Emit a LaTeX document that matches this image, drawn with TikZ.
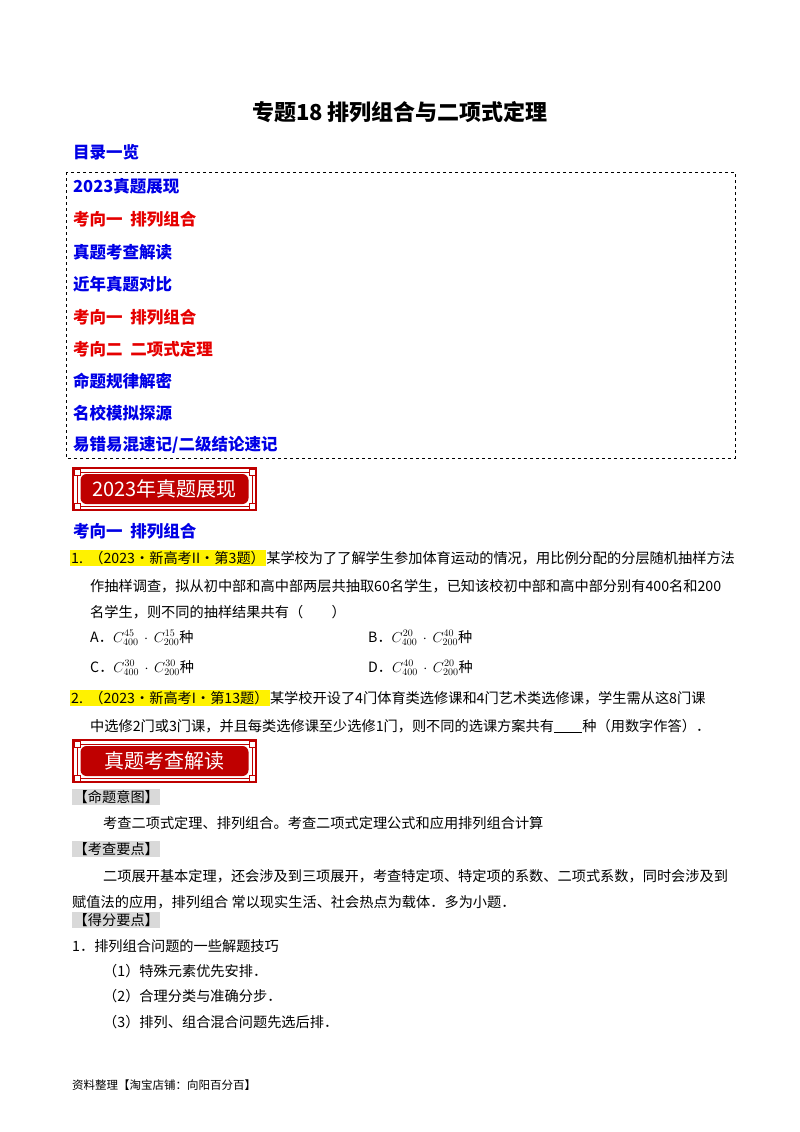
\documentclass[tikz,border=0pt]{standalone}
\usepackage{fontspec}
\setmainfont{Noto Sans CJK SC}
\begin{document}
\begin{tikzpicture}[x=1pt,y=-1pt,
 t/.style={anchor=west,inner sep=0pt,font=\fontsize{14.2}{15}\selectfont},
 h/.style={anchor=west,inner sep=0pt,font=\fontsize{16.5}{17}\bfseries\selectfont},
 blue/.style={text=blue!90!black},
 redt/.style={text=red!90!black},
 tag/.style={t,fill=black!15,inner sep=1.5pt}]
\useasboundingbox (0,0) rectangle (800,1132);
\node[inner sep=0pt,font=\fontsize{22}{23}\bfseries\selectfont] (title) at (400,112) {专题18\ 排列组合与二项式定理};
\node[h,blue] (toc) at (73,152) {目录一览};
\draw[dashed,thick] (66,172) rectangle (735,458);
\foreach \y/\s/\c in {186/2023真题展现/blue,219/考向一\ \ 排列组合/redt,252/真题考查解读/blue,284/近年真题对比/blue,317/考向一\ \ 排列组合/redt,349/考向二\ \ 二项式定理/redt,381/命题规律解密/blue,413/名校模拟探源/blue,445/{易错易混速记/二级结论速记}/blue}
  \node[h,\c] at (73,\y) {\s};
% banners
\foreach \yy/\s/\n in {468/2023年真题展现/b1,740/真题考查解读/b2}{
 \draw[red!75!black,line width=1.2pt] (73,\yy) rectangle (256,\yy+42);
 \draw[red!75!black,line width=0.6pt] (77,\yy+4) rectangle (252,\yy+38);
 \foreach \cx/\cy in {77/\yy+4,252/\yy+4,77/\yy+38,252/\yy+38}
   \draw[red!75!black,fill=white,line width=0.6pt] (\cx-3,\cy-3) rectangle (\cx+3,\cy+3);
 \node[fill=red!75!black,rounded corners=6pt,minimum width=168pt,minimum height=30pt,inner sep=0pt,text=white,font=\fontsize{20}{21}\selectfont] (\n) at (164.5,\yy+21) {\s};
}
\node[h,blue] (k1) at (73,531) {考向一\ \ 排列组合};
\node[t,fill=yellow,inner sep=1pt] (q1) at (70,558) {1.\ \ （2023•新高考II•第3题）};
\node[t] (q1a) at (q1.east) {某学校为了了解学生参加体育运动的情况，用比例分配的分层随机抽样方法};
\node[t] at (90,586) {作抽样调查，拟从初中部和高中部两层共抽取60名学生，已知该校初中部和高中部分别有400名和200};
\node[t] at (90,612) {名学生，则不同的抽样结果共有（\qquad ）};
\node[t] at (90,638) {A．$C_{400}^{45}\,\cdot\, C_{200}^{15}$种};
\node[t] at (368,638) {B．$C_{400}^{20}\,\cdot\, C_{200}^{40}$种};
\node[t] at (90,668) {C．$C_{400}^{30}\,\cdot\, C_{200}^{30}$种};
\node[t] at (368,668) {D．$C_{400}^{40}\,\cdot\, C_{200}^{20}$种};
\node[t,fill=yellow,inner sep=1pt] (q2) at (70,698) {2.\ \ （2023•新高考I•第13题）};
\node[t] at (q2.east) {某学校开设了4门体育类选修课和4门艺术类选修课，学生需从这8门课};
\node[t] at (90,726) {中选修2门或3门课，并且每类选修课至少选修1门，则不同的选课方案共有\underline{\hspace{2em}}种（用数字作答）．};
\node[tag] at (72,797) {【命题意图】};
\node[t] at (103,823) {考查二项式定理、排列组合。考查二项式定理公式和应用排列组合计算};
\node[tag] at (72,849) {【考查要点】};
\node[t] at (103,876) {二项展开基本定理，还会涉及到三项展开，考查特定项、特定项的系数、二项式系数，同时会涉及到};
\node[t] at (72,902) {赋值法的应用，排列组合\ 常以现实生活、社会热点为载体．多为小题．};
\node[tag] at (72,920) {【得分要点】};
\node[t] at (72,946) {1．排列组合问题的一些解题技巧};
\node[t] at (103,971) {（1）特殊元素优先安排．};
\node[t] at (103,996) {（2）合理分类与准确分步．};
\node[t] at (103,1022) {（3）排列、组合混合问题先选后排．};
\node[t,font=\fontsize{11.5}{12}\selectfont] at (72,1085) {资料整理【淘宝店铺：向阳百分百】};
\end{tikzpicture}
\end{document}
